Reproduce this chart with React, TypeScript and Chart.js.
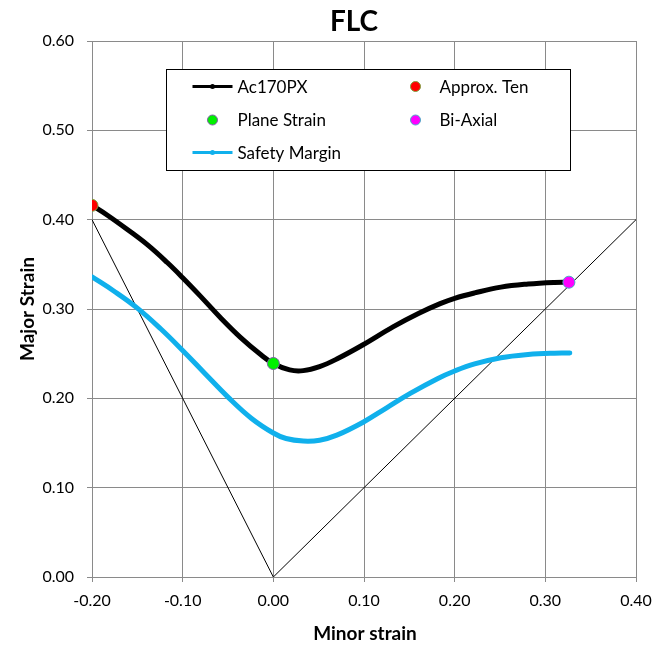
import React, { useEffect, useRef } from "react";
import { Chart, registerables } from "chart.js";

Chart.register(...registerables);

const TITLE = "FLC";
const X_TITLE = "Minor strain";
const Y_TITLE = "Major Strain";

const X_TICKS = [-0.2, -0.1, 0.0, 0.1, 0.2, 0.3, 0.4];
const Y_TICKS = [0.0, 0.1, 0.2, 0.3, 0.4, 0.5, 0.6];

// Ac170PX (FLC curve)
const flcMinor = [-0.2, -0.183, -0.161, -0.139, -0.117, -0.1, -0.081, -0.058, -0.036, -0.014, 0.0, 0.018, 0.033, 0.051, 0.07, 0.099, 0.132, 0.16, 0.184, 0.2, 0.222, 0.251, 0.281, 0.31, 0.326];
const flcMajor = [0.416, 0.405, 0.389, 0.372, 0.352, 0.335, 0.315, 0.29, 0.268, 0.249, 0.239, 0.2318, 0.231, 0.2355, 0.244, 0.26, 0.28, 0.295, 0.306, 0.312, 0.318, 0.3245, 0.328, 0.3298, 0.33];

// Safety Margin
const safeMinor = [-0.2, -0.176, -0.15, -0.124, -0.1, -0.076, -0.05, -0.024, 0.0, 0.014, 0.033, 0.051, 0.07, 0.099, 0.125, 0.151, 0.181, 0.2, 0.222, 0.251, 0.281, 0.31, 0.327];
const safeMajor = [0.336, 0.3202, 0.301, 0.2776, 0.2536, 0.2284, 0.2014, 0.1775, 0.1612, 0.155, 0.1522, 0.1531, 0.1588, 0.1733, 0.1894, 0.2055, 0.222, 0.2306, 0.2385, 0.2455, 0.2491, 0.2506, 0.2507];

// Strain path reference lines
const pathMinor = [-0.2, 0.0, 0.4];
const pathMajor = [0.4, 0.0, 0.4];

// Special points
const approxTen = { x: -0.2, y: 0.416 };
const planeStrain = { x: 0.0, y: 0.239 };
const biAxial = { x: 0.326, y: 0.33 };

const FONT = "Lato, Carlito, 'Open Sans', sans-serif";
const BLUE = "#10b0ec";
const GRID = "#8a8a8a";

const toPts = (xs: number[], ys: number[]) => xs.map((x, i) => ({ x, y: ys[i] }));

type LegendItem =
  | { kind: "line"; label: string; color: string; col: number; row: number }
  | { kind: "dot"; label: string; fill: string; stroke: string; col: number; row: number };

const LEGEND: LegendItem[] = [
  { kind: "line", label: "Ac170PX", color: "#000000", col: 0, row: 0 },
  { kind: "dot", label: "Approx. Ten", fill: "#ff0000", stroke: "#7f9f3f", col: 1, row: 0 },
  { kind: "dot", label: "Plane Strain", fill: "#00f000", stroke: "#8060a8", col: 0, row: 1 },
  { kind: "dot", label: "Bi-Axial", fill: "#ff00ff", stroke: "#4bacc6", col: 1, row: 1 },
  { kind: "line", label: "Safety Margin", color: BLUE, col: 0, row: 2 },
];

const overlayPlugin = {
  id: "overlay",
  afterDraw(chart: any) {
    const ctx = chart.ctx as CanvasRenderingContext2D;
    const { left, right, top, bottom } = chart.chartArea;
    ctx.save();
    ctx.fillStyle = "#000";
    ctx.textAlign = "center";
    ctx.textBaseline = "middle";
    ctx.font = `bold 28px ${FONT}`;
    ctx.fillText(TITLE, 354, 22);
    ctx.font = `bold 19px ${FONT}`;
    ctx.fillText(X_TITLE, (left + right) / 2 + 1, 634);
    ctx.save();
    ctx.translate(28, (top + bottom) / 2);
    ctx.rotate(-Math.PI / 2);
    ctx.fillText(Y_TITLE, 0, 0);
    ctx.restore();

    // legend box
    const bx = Math.round(left + 74) + 0.5;
    const by = Math.round(top + 28) + 0.5;
    const bw = 404;
    const bh = 101;
    ctx.fillStyle = "#fff";
    ctx.fillRect(bx, by, bw, bh);
    ctx.strokeStyle = "#000";
    ctx.lineWidth = 1;
    ctx.strokeRect(bx, by, bw, bh);

    const colSample = [46, 249];
    const colText = [71, 273];
    const rowY = [17, 50.5, 83];
    ctx.font = `17px ${FONT}`;
    ctx.textAlign = "left";
    for (const it of LEGEND) {
      const cx = bx + colSample[it.col];
      const cy = by + rowY[it.row];
      if (it.kind === "line") {
        ctx.strokeStyle = it.color;
        ctx.lineWidth = 3;
        ctx.beginPath();
        ctx.moveTo(cx - 20, cy);
        ctx.lineTo(cx + 20, cy);
        ctx.stroke();
        ctx.fillStyle = it.color;
        ctx.beginPath();
        ctx.arc(cx, cy, 2.5, 0, Math.PI * 2);
        ctx.fill();
      } else {
        ctx.fillStyle = it.fill;
        ctx.strokeStyle = it.stroke;
        ctx.lineWidth = 1;
        ctx.beginPath();
        ctx.arc(cx, cy, 5, 0, Math.PI * 2);
        ctx.fill();
        ctx.stroke();
      }
      ctx.fillStyle = "#000";
      ctx.fillText(it.label, bx + colText[it.col], cy + 1);
    }
    ctx.restore();
  },
};

export default function App() {
  const ref = useRef<HTMLCanvasElement | null>(null);

  useEffect(() => {
    if (!ref.current) return;
    const chart = new Chart(ref.current, {
      type: "scatter",
      data: {
        datasets: [
          {
            label: "Approx. Ten",
            data: [approxTen],
            backgroundColor: "#ff0000",
            borderColor: "#7f9f3f",
            borderWidth: 1,
            pointRadius: 6,
            showLine: false,
            order: 0,
          },
          {
            label: "Plane Strain",
            data: [planeStrain],
            backgroundColor: "#00f000",
            borderColor: "#8060a8",
            borderWidth: 1,
            pointRadius: 6,
            showLine: false,
            order: 0,
          },
          {
            label: "Bi-Axial",
            data: [biAxial],
            backgroundColor: "#ff00ff",
            borderColor: "#4bacc6",
            borderWidth: 1,
            pointRadius: 6,
            showLine: false,
            order: 0,
          },
          {
            label: "Ac170PX",
            data: toPts(flcMinor, flcMajor),
            showLine: true,
            borderColor: "#000000",
            backgroundColor: "#000000",
            borderWidth: 5,
            pointRadius: 0,
            tension: 0.4,
            borderCapStyle: "round",
            borderJoinStyle: "round",
            order: 1,
          },
          {
            label: "Safety Margin",
            data: toPts(safeMinor, safeMajor),
            showLine: true,
            borderColor: BLUE,
            backgroundColor: BLUE,
            borderWidth: 5,
            pointRadius: 0,
            tension: 0.4,
            borderCapStyle: "round",
            borderJoinStyle: "round",
            order: 2,
          },
          {
            label: "Path",
            data: toPts(pathMinor, pathMajor),
            showLine: true,
            borderColor: "#000000",
            borderWidth: 1,
            pointRadius: 0,
            tension: 0,
            order: 3,
          },
        ],
      } as any,
      options: {
        animation: false,
        responsive: true,
        maintainAspectRatio: false,
        layout: { padding: { top: 41, right: 30, left: 0, bottom: 0 } },
        plugins: {
          legend: { display: false },
          title: { display: false },
          tooltip: { enabled: false },
        },
        scales: {
          x: {
            type: "linear",
            min: -0.2,
            max: 0.4,
            afterFit: (s: any) => {
              s.height = 70;
            },
            afterBuildTicks: (s: any) => {
              s.ticks = X_TICKS.map((v) => ({ value: v }));
            },
            ticks: {
              color: "#000",
              font: { family: FONT, size: 16 },
              padding: 9,
              callback: (v: any) => Number(v).toFixed(2),
            },
            grid: { color: GRID, lineWidth: 1, tickLength: 5, drawTicks: true },
            border: { color: GRID, width: 1 },
          },
          y: {
            type: "linear",
            min: 0,
            max: 0.6,
            afterFit: (s: any) => {
              s.width = 92;
            },
            afterBuildTicks: (s: any) => {
              s.ticks = Y_TICKS.map((v) => ({ value: v }));
            },
            ticks: {
              color: "#000",
              font: { family: FONT, size: 16 },
              padding: 13,
              callback: (v: any) => Number(v).toFixed(2),
            },
            grid: { color: GRID, lineWidth: 1, tickLength: 5, drawTicks: true },
            border: { color: GRID, width: 1 },
          },
        },
      } as any,
      plugins: [overlayPlugin],
    });
    return () => chart.destroy();
  }, []);

  return (
    <div style={{ position: "fixed", left: 0, top: 0, width: 666, height: 647, background: "#fff" }}>
      <canvas ref={ref} />
    </div>
  );
}
